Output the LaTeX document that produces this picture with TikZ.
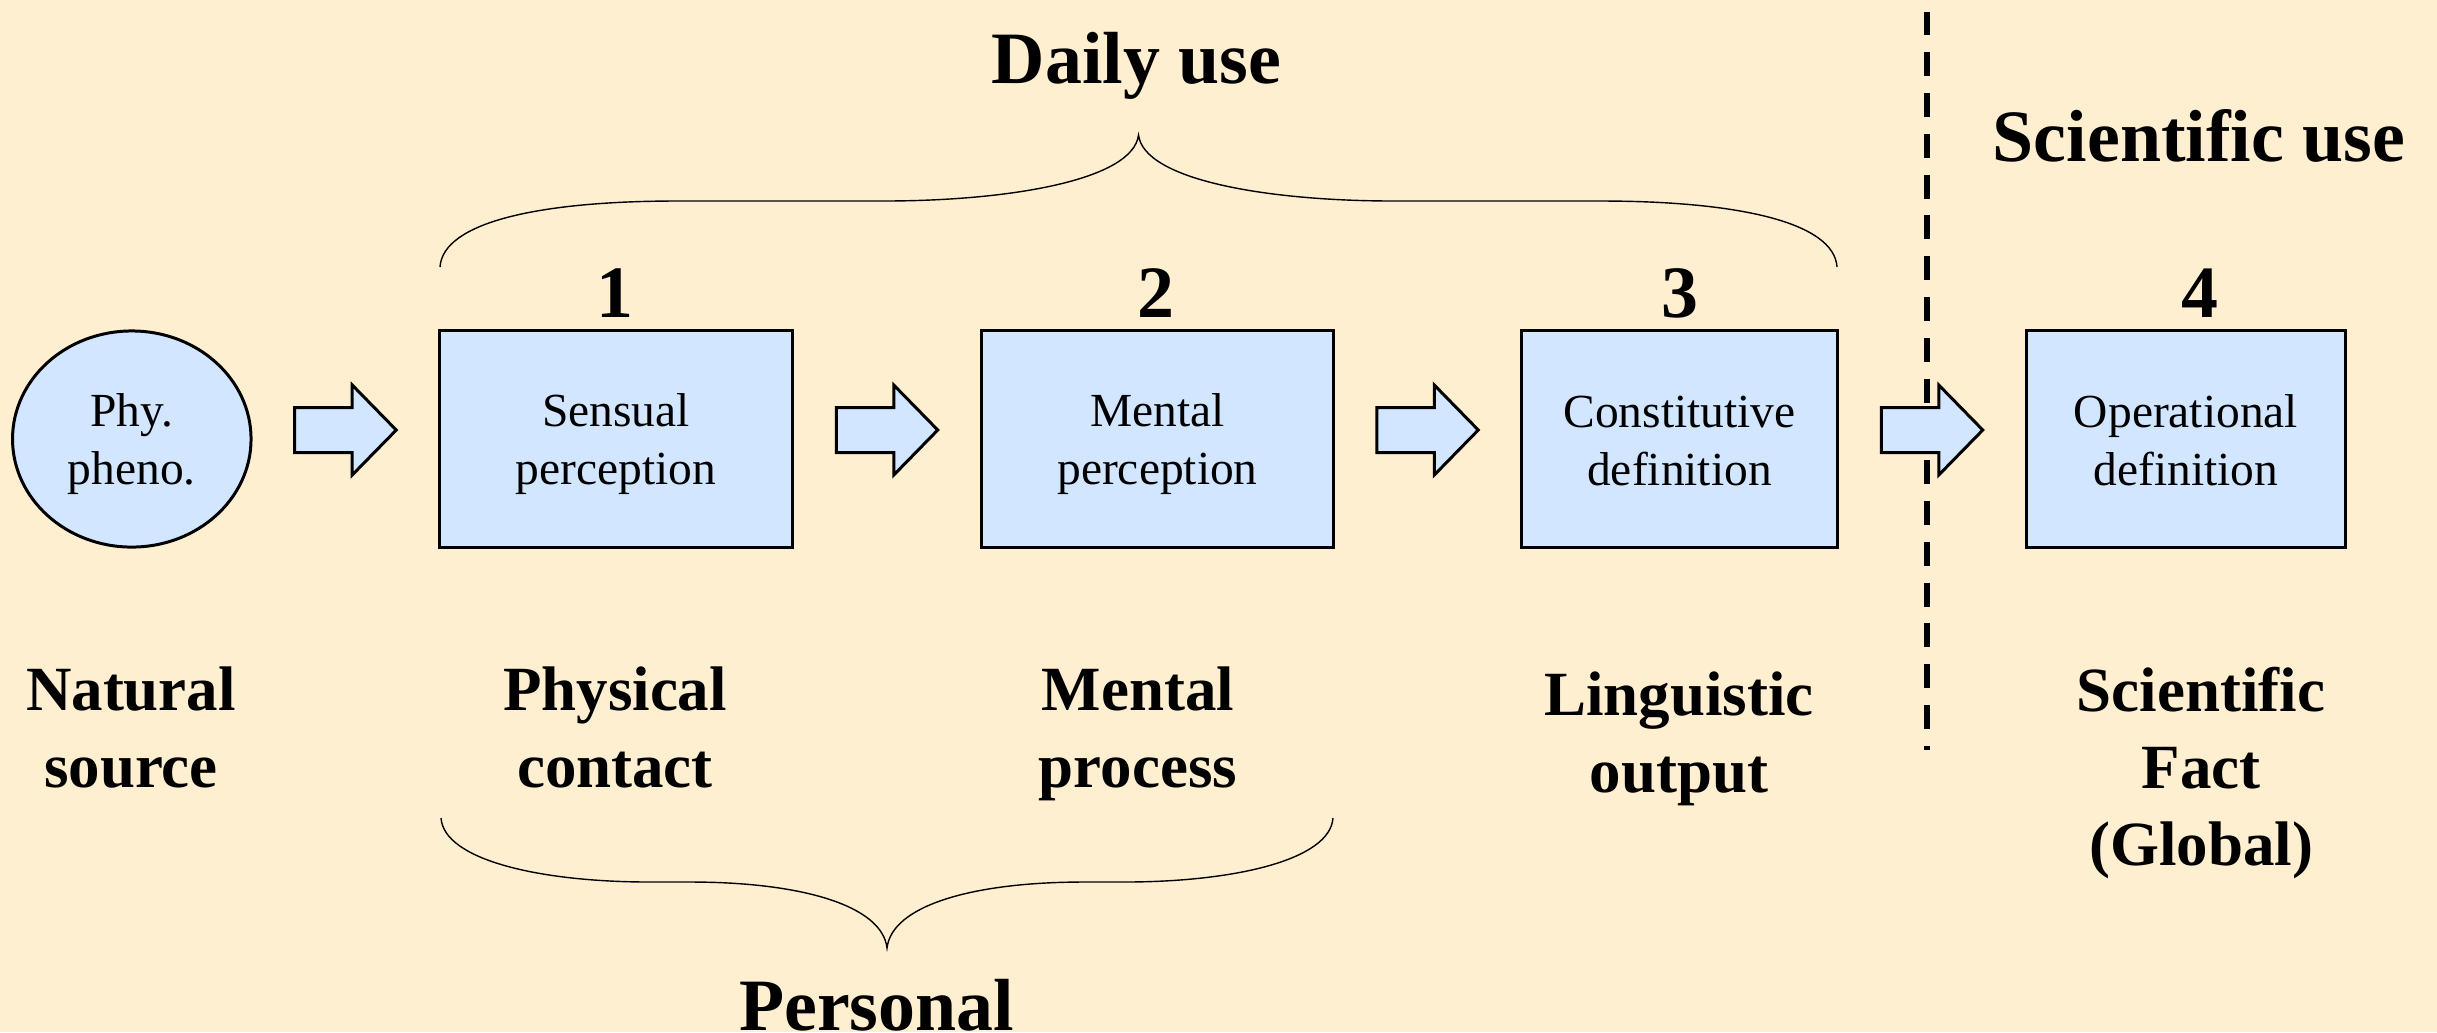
\documentclass[tikz,border=0pt]{standalone}
\usepackage{fontspec}
\setmainfont{Liberation Serif}
\usetikzlibrary{shapes.geometric,calc}
\definecolor{bgcol}{RGB}{255,239,209}
\definecolor{boxcol}{RGB}{210,230,255}
\newcommand\bxstrut{\rule[-2.33pt]{0pt}{14.33pt}}
\begin{document}
\begin{tikzpicture}[x=0.01cm,y=-0.01cm,
  box/.style={draw,line width=0.85pt,fill=boxcol,inner sep=0pt,minimum height=2.16cm,align=center,font=\fontsize{13.5pt}{16.5pt}\selectfont},
  title/.style={inner sep=0pt,anchor=base,font=\fontsize{21pt}{25pt}\selectfont\bfseries},
  numlabel/.style={inner sep=0pt,anchor=base,font=\fontsize{21pt}{25pt}\selectfont\bfseries},
  botlabel/.style={inner sep=0pt,anchor=north,align=center,font=\fontsize{17.9pt}{21.9pt}\selectfont\bfseries},
  brace/.style={line width=0.4pt},
  divider/.style={line width=1.7pt,dash pattern=on 6.8pt off 4.8pt},
  blockarr/.pic={\draw[line width=0.85pt,fill=boxcol,line join=miter]
     (-50.75,-22.5) -- (6.75,-22.5) -- (6.75,-45) -- (50.75,0) -- (6.75,45) -- (6.75,22.5) -- (-50.75,22.5) -- cycle;}
]
\useasboundingbox (0,0) rectangle (2437,1032);
\fill[bgcol] (0,0) rectangle (2437,1032);

% dashed divider
\coordinate (dtop) at (1926.6,11.5);
\coordinate (dbot) at (1926.6,750);
\draw[divider] (dtop) -- (dbot);

% nodes
\node[draw,line width=0.85pt,fill=boxcol,ellipse,inner sep=0pt,minimum width=2.384cm,minimum height=2.16cm,align=center,font=\fontsize{13.5pt}{16.5pt}\selectfont] (e) at (131.8,439) {\bxstrut Phy.\\\bxstrut pheno.};
\node[box,minimum width=3.52cm] (b1) at (616,439) {\bxstrut Sensual\\\bxstrut perception};
\node[box,minimum width=3.51cm] (b2) at (1157.5,439) {\bxstrut Mental\\\bxstrut perception};
\node[box,minimum width=3.15cm] (b3) at (1679.5,439) {\bxstrut Constitutive\\\bxstrut definition};
\node[box,minimum width=3.18cm] (b4) at (2186,439) {\bxstrut Operational\\\bxstrut definition};

% block arrows
\pic at ($(e.east)!.5!(b1.west)+(0,-9)$) {blockarr};
\pic at ($(b1.east)!.5!(b2.west)+(0,-9)$) {blockarr};
\pic at ($(b2.east)!.5!(b3.west)+(0,-9)$) {blockarr};
\pic at ($(b3.east)!.5!(b4.west)+(0,-9)$) {blockarr};

% numbers
\node[numlabel] (n1) at (615,317) {1};
\node[numlabel] (n2) at (1156,317) {2};
\node[numlabel] (n3) at (1680,317) {3};
\node[numlabel] (n4) at (2200,317) {4};

% titles
\node[title] (daily) at (1136.5,83) {Daily use};
\node[title] (sci) at (2199,161) {Scientific use};
\node[title] (pers) at (876.5,1030) {Personal};

% bottom labels
\node[botlabel] (l0) at (131,666) {Natural\\source};
\node[botlabel] (l1) at (615,666) {Physical\\contact};
\node[botlabel] (l2) at (1138,666) {Mental\\process};
\node[botlabel] (l3) at (1679,671) {Linguistic\\output};
\node[botlabel] (l4) at (2201,666) {Scientific\\Fact\\(Global)};

% top brace
\draw[brace] (440,267) .. controls (443,222) and (540,201) .. (677,201) -- (883,201)
  .. controls (1010,201) and (1133,180) .. (1138.5,135)
  .. controls (1144,180) and (1267,201) .. (1394,201) -- (1600,201)
  .. controls (1737,201) and (1834,222) .. (1837,267);

% bottom brace
\draw[brace] (441,818) .. controls (444,860) and (540,882) .. (650,882) -- (690,882)
  .. controls (800,882) and (882,905) .. (887,948)
  .. controls (892,905) and (974,882) .. (1084,882) -- (1124,882)
  .. controls (1234,882) and (1330,860) .. (1333,818);
\end{tikzpicture}
\end{document}
